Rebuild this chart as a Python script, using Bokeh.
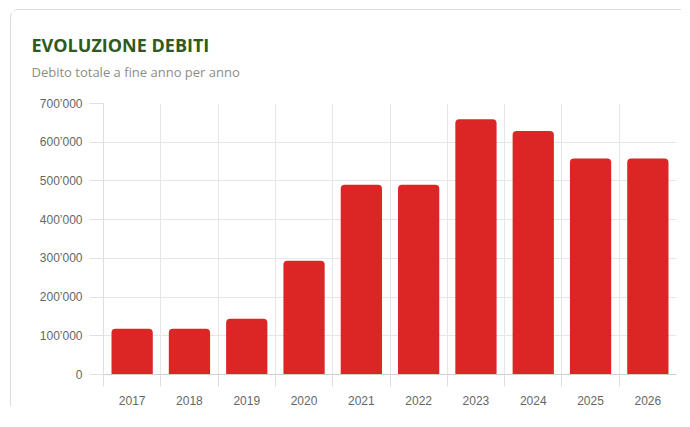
from bokeh.plotting import figure
from bokeh.models import Range1d, FixedTicker, CustomJSTickFormatter, Title, LinearAxis
from bokeh.embed import file_html
from bokeh.resources import INLINE

years = ["2017", "2018", "2019", "2020", "2021", "2022", "2023", "2024", "2025", "2026"]
debts = [118000, 118000, 144000, 294000, 490000, 490000, 659000, 629000, 558000, 558000]
y_ticks = [0, 100000, 200000, 300000, 400000, 500000, 600000, 700000]

n = len(years)
centers = [i + 0.5 for i in range(n)]
bounds = [float(i) for i in range(n)]

p = figure(width=671, height=397, output_backend="svg", toolbar_location=None,
           x_range=Range1d(0, n), y_range=Range1d(0, 700000),
           min_border_left=92, min_border_right=6, min_border_bottom=10,
           min_border_top=93)
p.margin = (9, 0, 0, 10)
p.styles = {"border-top": "1px solid #dcdcdc", "border-left": "1px solid #dcdcdc",
            "border-top-left-radius": "8px"}
p.outline_line_color = None
p.background_fill_color = "white"
p.border_fill_color = "white"

p.vbar(x=centers, top=debts, width=0.72, fill_color="#dc2626", line_color=None,
       border_radius=(4, 4, 0, 0))

# x axis (bottom)
xa = p.below[0]
xt = FixedTicker(ticks=centers, minor_ticks=bounds)
xa.ticker = xt
p.xgrid.ticker = xt
xa.major_label_overrides = {c: y for c, y in zip(centers, years)}
xa.major_tick_out = 0
xa.major_tick_in = 0
xa.minor_tick_out = 12
xa.minor_tick_in = 0
xa.minor_tick_line_color = "#dedede"
xa.axis_line_color = "#d0d0d0"
xa.major_label_standoff = 9
xa.major_label_text_font = "Liberation Sans"
xa.major_label_text_font_size = "12px"
xa.major_label_text_color = "#666666"
p.xgrid.grid_line_color = None
p.xgrid.minor_grid_line_color = "#e6e6e6"

# y axis
p.yaxis.ticker = FixedTicker(ticks=y_ticks)
p.yaxis.formatter = CustomJSTickFormatter(code="""
return Math.round(tick).toString().replace(/\\B(?=(\\d{3})+(?!\\d))/g, "\u2019");
""")
p.yaxis.major_tick_out = 14
p.yaxis.major_tick_in = 0
p.yaxis.major_tick_line_color = "#e0e0e0"
p.yaxis.minor_tick_line_color = None
p.yaxis.axis_line_color = "#dedede"
p.yaxis.major_label_standoff = 7
p.yaxis.major_label_text_font = "Liberation Sans"
p.yaxis.major_label_text_font_size = "12px"
p.yaxis.major_label_text_color = "#666666"
p.ygrid.grid_line_color = "#e6e6e6"

# invisible spacer between the subtitle and the plot area
spacer = LinearAxis(ticker=FixedTicker(ticks=[centers[0]]), major_tick_out=21,
                    major_tick_in=0, minor_tick_out=0, minor_tick_in=0,
                    axis_line_color=None, major_tick_line_color=None,
                    minor_tick_line_color=None, major_label_standoff=0,
                    major_label_overrides={centers[0]: ""},
                    major_label_text_font_size="1px")
p.add_layout(spacer, "above")

# titles
sub = Title(text="Debito totale a fine anno per anno", text_font="Open Sans",
            text_font_size="13px", text_font_style="normal", text_color="#8c8c8c",
            align="left", offset=-72, standoff=4)
p.add_layout(sub, "above")
main = Title(text="EVOLUZIONE DEBITI", text_font="Open Sans", text_font_size="18px",
             text_font_style="bold", text_color="#2e5a1e", align="left", offset=-72,
             standoff=4)
p.add_layout(main, "above")

open("out.html", "w").write(file_html(p, INLINE))
